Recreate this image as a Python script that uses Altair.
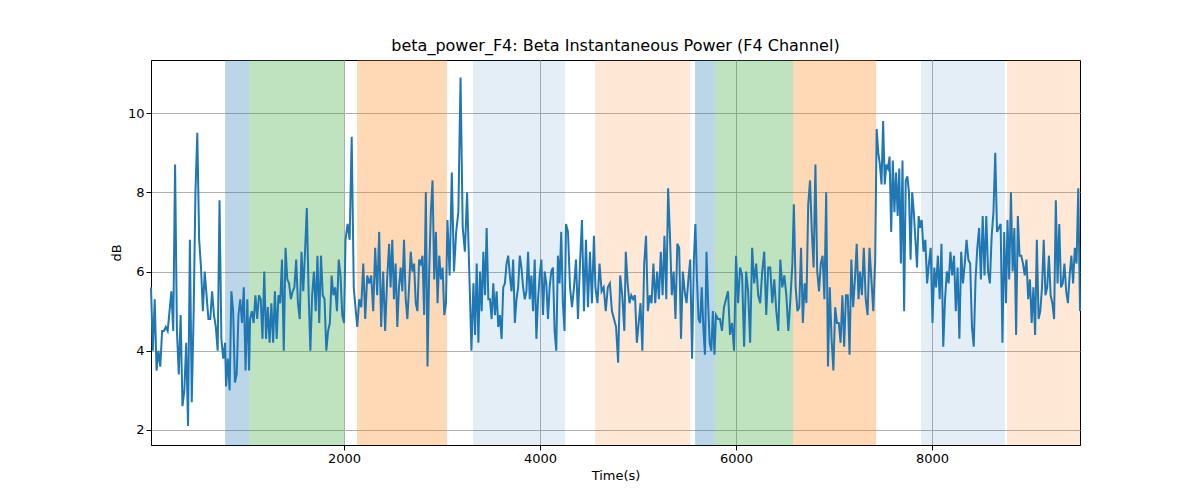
import altair as alt
import numpy as np
import pandas as pd

# signal segments: (start time, end time, values)
segments = [
    (30, 786, [5.6, 4.0, 5.3, 3.5, 4.0, 3.6, 4.5, 4.5, 4.6, 4.5, 5.0, 5.5, 4.5, 8.7, 4.5, 3.4, 4.9, 2.6, 3.0, 4.2,
               2.1, 6.8, 2.7, 4.9, 8.0, 9.5, 6.8, 6.1, 5.0, 6.0, 5.4, 4.8, 4.8, 5.5, 4.9, 4.6, 4.0, 7.8, 4.3, 3.8, 4.2]),
    (796, 1031, [3.1, 3.8, 3.0, 5.5, 5.0, 3.2, 3.4, 4.9, 5.3, 4.7, 5.6, 3.5, 5.3, 3.5]),
    (1041, 2000, [4.8, 5.0, 4.7, 5.4, 4.8, 5.4, 5.3, 4.3, 6.0, 4.3, 5.1, 4.2, 5.2, 4.2, 5.5, 4.3, 5.4, 5.2, 6.3, 4.0,
                  6.6, 5.8, 5.7, 5.3, 5.5, 5.6, 6.3, 5.2, 4.8, 6.5, 5.5, 6.5, 7.6, 5.5, 4.0, 5.4, 6.0, 5.0, 6.4, 4.7,
                  6.4, 5.4, 5.3, 4.0, 4.5, 4.7, 5.9, 5.4, 5.6, 5.0, 6.3, 5.9, 4.9, 4.7]),
    (2015, 2120, [6.8, 7.2, 6.8, 9.4, 5.6, 5.0]),
    (2135, 2460, [4.6, 5.3, 5.1, 6.2, 4.8, 5.9, 5.7, 5.9, 5.0, 6.6, 5.4, 7.0, 4.6, 6.0, 4.5, 5.8, 6.7]),
    (2475, 3040, [5.6, 6.8, 5.3, 6.2, 4.6, 5.6, 6.1, 5.5, 6.8, 5.3, 4.8, 5.6, 6.5, 6.0, 6.2, 5.2, 5.0, 6.3, 6.2, 6.4,
                  4.9, 8.0, 3.6, 6.0, 7.5, 8.3, 5.8, 7.0, 5.2, 6.4, 5.8, 6.1, 4.9, 5.2]),
    (3055, 3300, [7.3, 5.9, 8.5, 6.0, 7.0, 7.5, 10.9, 7.1, 6.5, 8.0, 6.0, 4.0]),
    (3320, 4250, [5.7, 4.4, 6.2, 4.2, 6.0, 5.0, 6.5, 5.4, 7.1, 5.3, 5.3, 4.8, 5.7, 4.9, 5.5, 4.6, 4.9, 4.3, 5.6, 5.7,
                  6.2, 6.4, 5.9, 5.5, 6.3, 4.7, 5.3, 5.6, 6.4, 6.1, 5.6, 5.3, 5.5, 6.5, 5.3, 5.9, 5.0, 6.3, 4.3, 5.3,
                  5.9, 6.3, 4.9, 6.0, 5.7, 4.8, 5.6, 6.0, 6.1, 4.5, 4.0, 6.4, 5.7, 7.0, 5.2, 4.5]),
    (4265, 4550, [7.2, 7.0, 5.6, 5.1, 5.6, 6.3, 4.8, 6.2, 7.3, 5.0, 6.8, 5.1, 6.5, 5.2, 6.9]),
    (4565, 4860, [5.6, 5.2, 6.2, 5.5, 5.6, 5.0, 5.6, 5.7, 5.0, 4.8, 4.6, 3.7, 5.9, 5.4, 4.5]),
    (4875, 5570, [6.5, 5.7, 5.2, 5.4, 5.3, 5.4, 4.2, 4.7, 5.2, 4.0, 6.2, 6.9, 5.0, 5.4, 5.2, 6.2, 5.2, 6.0, 5.3, 6.5,
                  5.4, 6.9, 5.3, 8.1, 6.9, 5.4, 6.0, 4.8, 6.7, 6.6, 4.3, 6.0, 5.5, 5.2, 5.8, 6.3, 3.8, 6.3]),
    (5585, 5780, [7.2, 5.8, 4.8, 4.7, 5.6, 4.6, 3.9, 6.5, 5.2, 4.2, 4.0, 5.0, 3.9]),
    (5795, 6575, [4.9, 4.8, 4.8, 4.5, 5.1, 5.3, 5.5, 4.4, 4.7, 4.0, 6.4, 5.2, 6.1, 5.9, 4.1, 6.0, 5.5, 4.2, 6.6, 5.7,
                  6.2, 5.4, 5.2, 6.0, 6.5, 4.9, 6.1, 6.1, 5.2, 5.8, 5.0, 4.5, 6.3, 5.6, 5.9, 5.4, 4.5, 5.3, 6.2]),
    (6590, 7250, [7.7, 5.6, 5.0, 5.1, 6.6, 4.7, 5.7, 5.2, 7.7, 8.3, 7.0, 6.1, 8.7, 6.0, 5.5, 6.2, 6.4, 5.3, 8.0, 3.6,
                  5.6, 4.3, 3.5, 5.1, 4.7, 4.7, 4.2, 5.4, 4.1, 5.4, 5.4, 3.9, 6.3, 5.1, 5.8, 6.7, 5.3]),
    (7265, 7420, [6.0, 5.4, 6.6, 5.3, 4.9, 6.6, 5.8, 5.0, 6.3]),
    (7435, 7880, [9.6, 9.0, 8.7, 8.2, 9.8, 8.2, 8.7, 8.6, 8.9, 7.0, 8.8, 7.5, 8.5, 7.4, 8.6, 6.2, 8.8, 5.0, 8.3, 8.4,
                  8.0, 6.3, 8.0, 7.5, 6.8, 6.1, 7.4, 7.1]),
    (7895, 8755, [7.3, 6.5, 6.8, 5.7, 6.2, 6.6, 4.7, 6.1, 5.6, 6.4, 5.3, 6.7, 4.1, 5.3, 6.0, 5.7, 6.5, 5.9, 6.4, 5.0,
                  6.1, 4.3, 6.5, 5.7, 6.2, 6.8, 6.3, 6.2, 4.6, 4.1, 5.8, 6.6, 7.1, 5.8, 7.4, 5.9, 7.4, 6.0, 5.7, 6.9,
                  7.5, 9.0, 7.0, 7.1, 7.2, 4.2, 7.0, 5.2]),
    (8770, 9510, [7.3, 5.8, 8.0, 6.0, 7.1, 4.4, 7.4, 6.4, 6.4, 6.2, 5.9, 6.3, 5.3, 5.8, 4.7, 5.6, 4.4, 6.8, 4.8, 5.0,
                  5.6, 6.8, 5.4, 5.6, 6.4, 5.4, 5.2, 4.8, 7.8, 5.7, 7.2, 5.6, 5.7, 6.2, 5.5, 5.2, 5.9, 6.4, 5.7, 6.6,
                  6.2, 8.1, 5.0]),
]

times, values = [], []
for start, end, vals in segments:
    times.extend(np.linspace(start, end, len(vals)))
    values.extend(vals)
line_df = pd.DataFrame({"t": times, "db": values})

span_start = [786, 1031, 2133, 3316, 4561, 5582, 5786, 6582, 7888, 8765]
span_end = [1031, 2000, 3051, 4255, 5531, 5786, 6582, 7429, 8745, 9510]
span_color = ["#1f77b4", "#2ca02c", "#ff7f0e", "#1f77b4", "#ff7f0e",
              "#1f77b4", "#2ca02c", "#ff7f0e", "#1f77b4", "#ff7f0e"]
span_alpha = [0.3, 0.3, 0.3, 0.12, 0.17, 0.3, 0.3, 0.3, 0.12, 0.17]
span_df = pd.DataFrame({"s": span_start, "e": span_end, "c": span_color, "a": span_alpha})

xs = alt.Scale(domain=[30, 9510], nice=False, zero=False)
ys = alt.Scale(domain=[1.62, 11.34], nice=False, zero=False)

spans = alt.Chart(span_df).mark_rect().encode(
    x=alt.X("s:Q", scale=xs),
    x2="e:Q",
    color=alt.Color("c:N", scale=None),
    opacity=alt.Opacity("a:Q", scale=None),
)

line = alt.Chart(line_df).mark_line(color="#1f77b4", strokeWidth=2).encode(
    x=alt.X("t:Q", scale=xs, title="Time(s)",
            axis=alt.Axis(values=[2000, 4000, 6000, 8000], format="d", grid=True)),
    y=alt.Y("db:Q", scale=ys, title="dB",
            axis=alt.Axis(values=[2, 4, 6, 8, 10], grid=True)),
)

chart = alt.layer(spans, line).properties(
    width=929, height=385,
    title="beta_power_F4: Beta Instantaneous Power (F4 Channel)",
    autosize=alt.AutoSizeParams(type="none"),
    padding={"left": 143, "top": 52, "right": 100, "bottom": 50},
).configure_axis(
    gridColor="#b0b0b0", gridOpacity=1, domainColor="black", tickColor="black",
    labelFont="DejaVu Sans", titleFont="DejaVu Sans", labelFontSize=13, titleFontSize=13,
    titleFontWeight="normal", labelColor="black", titleColor="black",
).configure_title(
    font="DejaVu Sans", fontSize=16, fontWeight="normal", offset=6,
).configure_view(stroke="black")

chart.save("out.html", embed_options={"renderer": "svg", "actions": False})
